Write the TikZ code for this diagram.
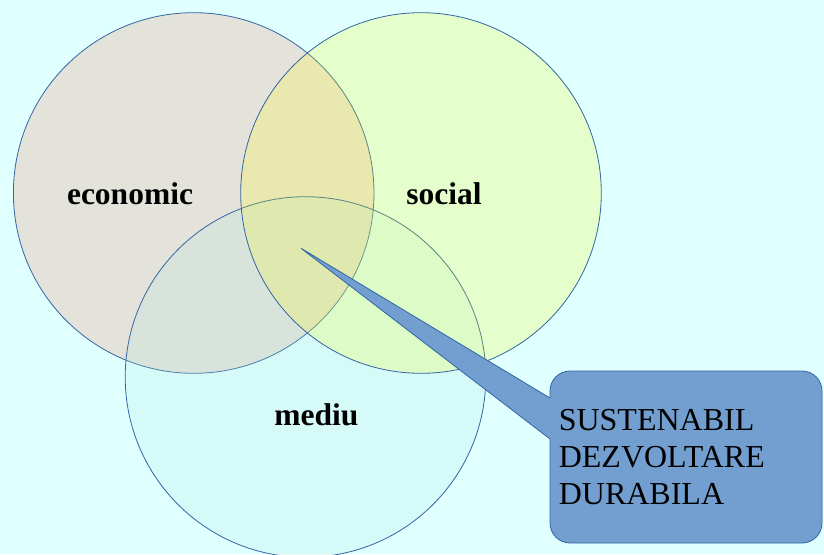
\documentclass[tikz,border=0pt]{standalone}
\usepackage{fontspec}
\setmainfont{Liberation Serif}
\definecolor{bgc}{RGB}{224,255,255}
\definecolor{econc}{RGB}{228,227,219}
\definecolor{socc}{RGB}{249,255,0}
\definecolor{medc}{RGB}{169,230,220}
\definecolor{edgec}{RGB}{52,101,164}
\definecolor{callc}{RGB}{114,159,207}
\begin{document}
\begin{tikzpicture}[x=1pt,y=-1pt,
  venn/.style={circle, minimum size=360.6pt, inner sep=0pt, draw=edgec, line width=0.8pt},
  lbl/.style={font=\bfseries\fontsize{31.5}{36}\selectfont, anchor=base, inner sep=0pt},
  callbox/.style={rectangle, rounded corners=20pt, minimum width=272pt, minimum height=172pt, fill=callc, draw=edgec, line width=0.8pt},
  calltext/.style={font=\fontsize{32}{36.7}\selectfont, align=left, anchor=west, inner sep=0pt}]
\useasboundingbox[fill=bgc] (0,0) rectangle (824,554);
\node[venn, fill=econc] (econ) at (193.7,193) {};
\node[venn, fill=medc, fill opacity=0.2] (med) at (305.5,377) {};
\node[venn, fill=socc, fill opacity=0.2] (soc) at (421,193) {};
\node[lbl] (leco) at (130,204) {economic};
\node[lbl] (lsoc) at (444,204) {social};
\node[lbl] (lmed) at (316.5,425) {mediu};
\node[callbox] (call) at (686,457) {};
\coordinate (tip) at (301,248.3);
\coordinate (pa) at (550,398);
\coordinate (pb) at (550,439);
\fill[callc] (tip) -- (pa) -- ([xshift=3pt]pa) -- ([xshift=3pt]pb) -- (pb) -- cycle;
\draw[edgec, line width=0.8pt, line join=miter] (pa) -- (tip) -- (pb);
\node[calltext] (ctext) at ([xshift=9pt]call.west) {SUSTENABIL\\DEZVOLTARE\\DURABILA};
\end{tikzpicture}
\end{document}
